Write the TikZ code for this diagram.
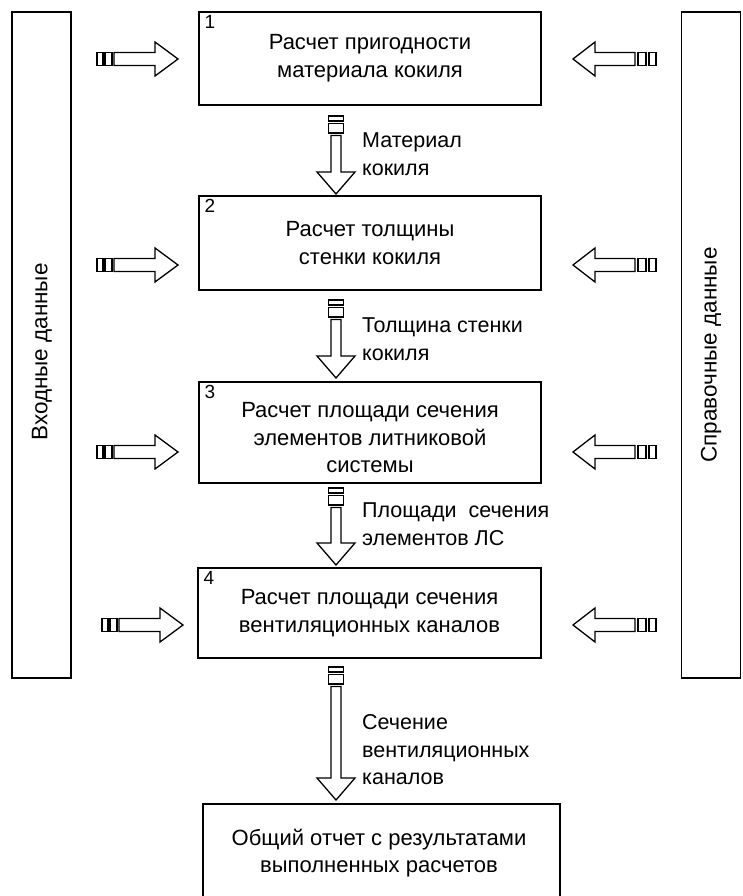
\documentclass[tikz,border=0pt]{standalone}
\usepackage{fontspec}
\setmainfont{Liberation Sans}
\begin{document}
\begin{tikzpicture}[x=1pt,y=-1pt,
  box/.style={draw,line width=1.4pt,inner sep=0pt,align=center,font=\fontsize{22}{28}\selectfont},
  lbl/.style={align=left,anchor=west,font=\fontsize{21.5}{28}\selectfont,inner sep=0pt},
  num/.style={anchor=north west,font=\fontsize{19}{20}\selectfont,inner sep=0pt},
  arr/.style={draw,line width=1.3pt,line join=miter},
  side/.style={draw,line width=1.4pt,minimum width=59pt,minimum height=666pt,inner sep=0pt}]
\useasboundingbox (0,0) rectangle (742,896);
% side boxes
\node[side] (inp) at (41.5,345) {};
\node[side] (ref) at (711,345) {};
\node[rotate=90,font=\fontsize{22.5}{24}\selectfont] (inptxt) at (42,352) {Входные данные};
\node[rotate=90,font=\fontsize{22.5}{24}\selectfont] (reftxt) at (711,355) {Справочные данные};
% main boxes
\node[box,minimum width=342pt,minimum height=93pt] (b1) at (370,58.5) {Расчет пригодности\\материала кокиля};
\node[box,minimum width=342pt,minimum height=94pt] (b2) at (370,243) {Расчет толщины\\стенки кокиля};
\node[box,minimum width=342pt,minimum height=101pt] (b3) at (370,432.5) {};
\node[align=center,font=\fontsize{22}{27.5}\selectfont,inner sep=0pt] (b3t) at (370,438) {Расчет площади сечения\\элементов литниковой\\системы};
\node[box,minimum width=343pt,minimum height=90pt] (b4) at (369.5,613) {Расчет площади сечения\\вентиляционных каналов};
\node[num] (n1) at ([xshift=6pt,yshift=-4pt]b1.north west) {1};
\node[num] (n2) at ([xshift=6pt,yshift=-4pt]b2.north west) {2};
\node[num] (n3) at ([xshift=6pt,yshift=-4pt]b3.north west) {3};
\node[num] (n4) at ([xshift=6pt,yshift=-4pt]b4.north west) {4};
% bottom box (open at the bottom edge of the picture)
\draw[line width=1.4pt] (203,897) -- (203,804) -- (560,804) -- (560,897);
\node[align=center,font=\fontsize{22}{27}\selectfont] (b5) at (379,853) {Общий отчет с результатами\\выполненных расчетов};
% horizontal block arrows
\newcommand\rarrowblk[2]{% tip x, y
  \draw[arr] (#1-81,#2-6.5) rectangle (#1-75,#2+6.5);
  \draw[arr] (#1-73,#2-6.5) rectangle (#1-66,#2+6.5);
  \draw[arr] (#1-64,#2-6.5) -- (#1-23,#2-6.5) -- (#1-23,#2-17) -- (#1,#2) -- (#1-23,#2+17) -- (#1-23,#2+6.5) -- (#1-64,#2+6.5) -- cycle;}
\newcommand\larrowblk[2]{% tip x, y
  \draw[arr] (#1+76,#2-6.5) rectangle (#1+83,#2+6.5);
  \draw[arr] (#1+65,#2-6.5) rectangle (#1+73,#2+6.5);
  \draw[arr] (#1+62,#2-6.5) -- (#1+22,#2-6.5) -- (#1+22,#2-17) -- (#1,#2) -- (#1+22,#2+17) -- (#1+22,#2+6.5) -- (#1+62,#2+6.5) -- cycle;}
\newcommand\darrowblk[3]{% x, top y, tip y
  \draw[arr] (#1-7.5,#2) rectangle (#1+7.5,#2+5);
  \draw[arr] (#1-7.5,#2+7.5) rectangle (#1+7.5,#2+17);
  \draw[arr] (#1-5,#2+19.5) -- (#1-5,#3-22) -- (#1-19,#3-22) -- (#1,#3) -- (#1+19,#3-22) -- (#1+5,#3-22) -- (#1+5,#2+19.5) -- cycle;}
\rarrowblk{178}{59}
\larrowblk{573}{59}
\rarrowblk{178}{265}
\larrowblk{573}{265}
\rarrowblk{178}{452}
\larrowblk{573}{452}
\rarrowblk{183}{625}
\larrowblk{573}{625}
\darrowblk{336}{116}{194}
\darrowblk{336}{300}{378}
\darrowblk{336}{488}{565}
\darrowblk{336}{667}{800}
% arrow labels
\node[lbl] (l1) at (362,154) {Материал\\кокиля};
\node[lbl] (l2) at (362,339) {Толщина стенки\\кокиля};
\node[lbl] (l3) at (362,524) {Площади\ \ сечения\\элементов ЛС};
\node[lbl,font=\fontsize{21.5}{27.5}\selectfont] (l4) at (362,750) {Сечение\\вентиляционных\\каналов};
\end{tikzpicture}
\end{document}
